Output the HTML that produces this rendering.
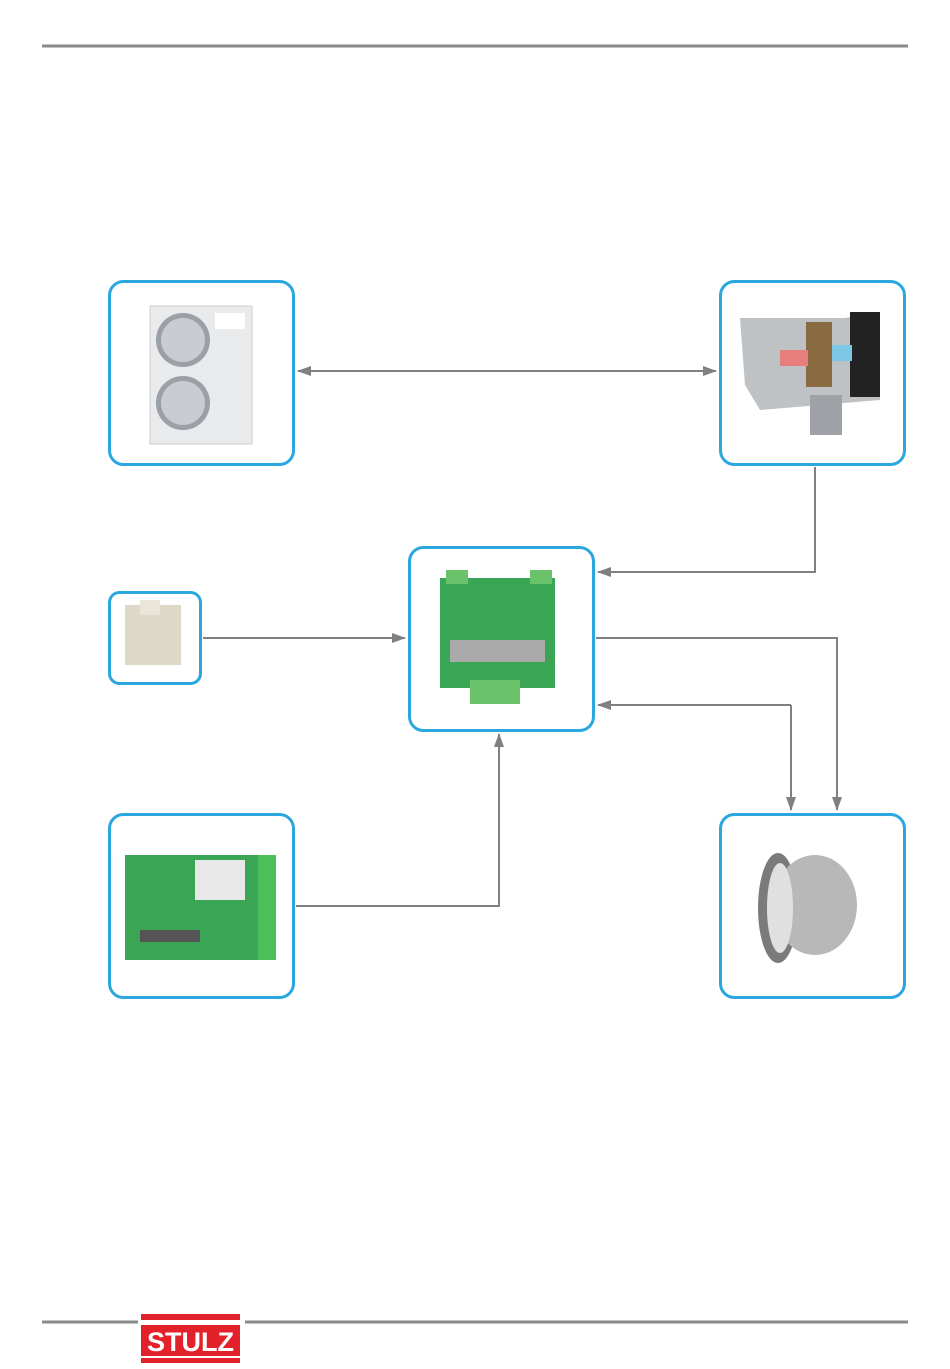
<!DOCTYPE html>
<html><head><meta charset="utf-8"><style>
html,body{margin:0;padding:0;background:#fff;}
svg{display:block;}
</style></head><body>
<svg width="950" height="1369" viewBox="0 0 950 1369" xmlns="http://www.w3.org/2000/svg">
<defs>
<marker id="ar" markerWidth="14" markerHeight="10" refX="13" refY="5" orient="auto" markerUnits="userSpaceOnUse">
<path d="M0,0 L14,5 L0,10 z" fill="#808080"/></marker>
<marker id="al" markerWidth="14" markerHeight="10" refX="1" refY="5" orient="auto" markerUnits="userSpaceOnUse">
<path d="M14,0 L0,5 L14,10 z" fill="#808080"/></marker>
</defs>
<line x1="42" y1="46" x2="908" y2="46" stroke="#8a8a8a" stroke-width="3"/>
<line x1="42" y1="1322" x2="138" y2="1322" stroke="#8a8a8a" stroke-width="3"/>
<line x1="245" y1="1322" x2="908" y2="1322" stroke="#8a8a8a" stroke-width="3"/>
<rect x="141" y="1314" width="99" height="6" fill="#e3212b"/>
<rect x="141" y="1325" width="99" height="31" fill="#e3212b"/>
<rect x="141" y="1358" width="99" height="5" fill="#e3212b"/>
<text x="190.5" y="1351" text-anchor="middle" font-family="Liberation Sans, sans-serif" font-weight="bold" font-size="27" fill="#fff">STULZ</text>

<g fill="none" stroke="#808080" stroke-width="2">
<line x1="298" y1="371" x2="716" y2="371" marker-start="url(#al)" marker-end="url(#ar)"/>
<polyline points="815,467 815,572 598,572" marker-end="url(#ar)"/>
<line x1="203" y1="638" x2="405" y2="638" marker-end="url(#ar)"/>
<polyline points="596,638 837,638 837,810" marker-end="url(#ar)"/>
<polyline points="791,705 598,705" marker-end="url(#ar)"/>
<polyline points="791,705 791,810" marker-end="url(#ar)"/>
<polyline points="296,906 499,906 499,734" marker-end="url(#ar)"/>
</g>

<g fill="#fff" stroke="#2aa7de" stroke-width="3">
<rect x="109.5" y="281.5" width="184" height="183" rx="14"/>
<rect x="720.5" y="281.5" width="184" height="183" rx="14"/>
<rect x="409.5" y="547.5" width="184" height="183" rx="14"/>
<rect x="109.5" y="592.5" width="91" height="91" rx="10"/>
<rect x="109.5" y="814.5" width="184" height="183" rx="14"/>
<rect x="720.5" y="814.5" width="184" height="183" rx="14"/>
</g>

<!-- outdoor unit -->
<rect x="150" y="306" width="102" height="138" fill="#e8eaec" stroke="#ccc"/>
<circle cx="183" cy="340" r="27" fill="#9aa0a6"/><circle cx="183" cy="340" r="22" fill="#c9cdd1"/>
<circle cx="183" cy="403" r="27" fill="#9aa0a6"/><circle cx="183" cy="403" r="22" fill="#c9cdd1"/>
<rect x="215" y="313" width="30" height="16" fill="#fff"/>
<!-- AHU -->
<path d="M740 318 L845 318 L880 312 L880 400 L760 410 L745 385 Z" fill="#bfc2c5"/>
<rect x="850" y="312" width="30" height="85" fill="#222"/>
<rect x="806" y="322" width="26" height="65" fill="#8a6a40"/>
<rect x="780" y="350" width="28" height="16" fill="#e67e7e"/>
<rect x="832" y="345" width="20" height="16" fill="#7cc7e6"/>
<rect x="810" y="395" width="32" height="40" fill="#9ea2a6"/>
<!-- controller board C -->
<rect x="440" y="578" width="115" height="110" fill="#3aa655"/>
<rect x="446" y="570" width="22" height="14" fill="#6ac36a"/><rect x="530" y="570" width="22" height="14" fill="#6ac36a"/>
<rect x="470" y="680" width="50" height="24" fill="#6ac36a"/>
<rect x="450" y="640" width="95" height="22" fill="#aaa"/>
<!-- power supply D -->
<rect x="125" y="605" width="56" height="60" fill="#ddd8c8"/>
<rect x="140" y="600" width="20" height="15" fill="#e9e5d8"/>
<!-- board E -->
<rect x="125" y="855" width="150" height="105" fill="#3aa655"/>
<rect x="258" y="855" width="18" height="105" fill="#4cbf5a"/>
<rect x="195" y="860" width="50" height="40" fill="#e8e8e8"/>
<rect x="140" y="930" width="60" height="12" fill="#555"/>
<!-- fan F -->
<ellipse cx="778" cy="908" rx="20" ry="55" fill="#7b7b7b"/>
<ellipse cx="815" cy="905" rx="42" ry="50" fill="#b8b8b8"/>
<ellipse cx="780" cy="908" rx="13" ry="45" fill="#e0e0e0"/>
</svg>
</body></html>
